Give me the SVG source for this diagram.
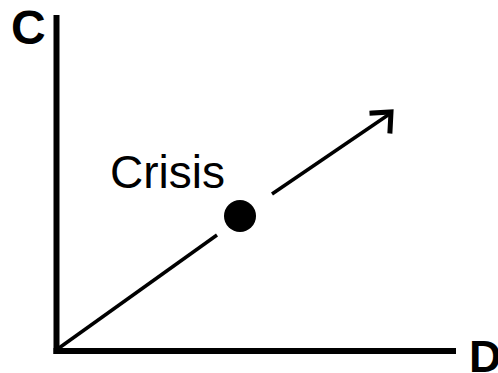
<svg xmlns="http://www.w3.org/2000/svg" width="498" height="373" viewBox="0 0 498 373">
<style>
.axis{stroke:#000;stroke-width:6;fill:none}
.vec{stroke:#000;stroke-width:3.5;fill:none}
.head{stroke:#000;stroke-width:5;fill:none;stroke-linecap:square}
.lbl{font-family:"Liberation Sans",Arial,sans-serif;fill:#000}
</style>
<rect width="498" height="373" fill="#fff"/>
<g id="axes">
<line class="axis" x1="56.5" y1="15" x2="56.5" y2="354"/>
<line class="axis" x1="53.5" y1="351" x2="456" y2="351"/>
</g>
<g id="label-C"><text class="lbl" x="11" y="44" font-size="48" font-weight="bold">C</text></g>
<g id="label-D"><text class="lbl" x="469" y="372" font-size="45" font-weight="bold">D</text></g>
<g id="connectors">
<line class="vec" x1="59" y1="348" x2="217" y2="235"/>
<line class="vec" x1="272" y1="194" x2="391" y2="113"/>
<polyline class="head" points="372,113 391,112 390,131"/>
</g>
<g id="crisis">
<circle cx="240" cy="216" r="16" fill="#000"/>
<text class="lbl" x="110" y="188" font-size="46">Crisis</text>
</g>
</svg>
